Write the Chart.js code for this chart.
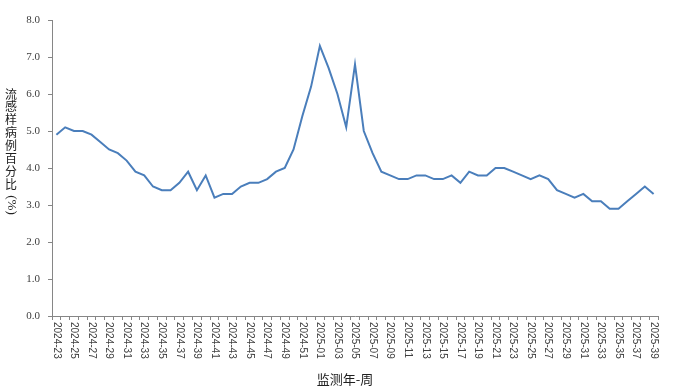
<!DOCTYPE html>
<html lang="zh">
<head>
    <meta charset="UTF-8">
    <title>流感样病例百分比</title>
    <script src="https://cdn.jsdelivr.net/npm/chart.js"></script>
    <style>
        html, body {
            margin: 0;
            padding: 0;
            background: #ffffff;
        }
        #wrap {
            position: relative;
            width: 693px;
            height: 390px;
        }
    </style>
</head>
<body>
    <div id="wrap">
        <canvas id="ili" width="693" height="390"></canvas>
    </div>
    <script>
        // 监测周 (2024-23 ... 2025-39)
        const weeks = [
            '2024-23', '2024-24', '2024-25', '2024-26', '2024-27', '2024-28', '2024-29', '2024-30',
            '2024-31', '2024-32', '2024-33', '2024-34', '2024-35', '2024-36', '2024-37', '2024-38',
            '2024-39', '2024-40', '2024-41', '2024-42', '2024-43', '2024-44', '2024-45', '2024-46',
            '2024-47', '2024-48', '2024-49', '2024-50', '2024-51', '2024-52',
            '2025-01', '2025-02', '2025-03', '2025-04', '2025-05', '2025-06', '2025-07', '2025-08',
            '2025-09', '2025-10', '2025-11', '2025-12', '2025-13', '2025-14', '2025-15', '2025-16',
            '2025-17', '2025-18', '2025-19', '2025-20', '2025-21', '2025-22', '2025-23', '2025-24',
            '2025-25', '2025-26', '2025-27', '2025-28', '2025-29', '2025-30', '2025-31', '2025-32',
            '2025-33', '2025-34', '2025-35', '2025-36', '2025-37', '2025-38', '2025-39'
        ];

        // 流感样病例百分比 (%)
        const iliPercent = [
            4.9, 5.1, 5.0, 5.0, 4.9, 4.7, 4.5, 4.4,
            4.2, 3.9, 3.8, 3.5, 3.4, 3.4, 3.6, 3.9,
            3.4, 3.8, 3.2, 3.3, 3.3, 3.5, 3.6, 3.6,
            3.7, 3.9, 4.0, 4.5, 5.4, 6.2,
            7.3, 6.7, 6.0, 5.1, 6.8, 5.0, 4.4, 3.9,
            3.8, 3.7, 3.7, 3.8, 3.8, 3.7, 3.7, 3.8,
            3.6, 3.9, 3.8, 3.8, 4.0, 4.0, 3.9, 3.8,
            3.7, 3.8, 3.7, 3.4, 3.3, 3.2, 3.3, 3.1,
            3.1, 2.9, 2.9, 3.1, 3.3, 3.5, 3.3
        ];

        const yTicks = [0, 1, 2, 3, 4, 5, 6, 7, 8];
        const yTitleChars = ['流', '感', '样', '病', '例', '百', '分', '比'];
        const yTitleUnit = '(%)';
        const xTitle = '监测年-周';

        const axisColor = '#868686';
        const textColor = '#404040';

        // draws the rotated week labels and both axis titles
        const axisText = {
            id: 'axisText',
            afterDraw(chart) {
                const ctx = chart.ctx;
                const xs = chart.scales.x;

                ctx.save();
                ctx.fillStyle = textColor;
                ctx.font = '10px "Liberation Sans", Arial, sans-serif';
                ctx.textAlign = 'left';
                ctx.textBaseline = 'middle';
                weeks.forEach((w, i) => {
                    if (i % 2) return;
                    ctx.save();
                    ctx.translate(xs.getPixelForValue(i), xs.top + 6);
                    ctx.rotate(Math.PI / 2);
                    ctx.fillText(w, 0, 0);
                    ctx.restore();
                });

                // y title, upright characters stacked
                ctx.fillStyle = '#202020';
                ctx.font = '12px "Noto Sans CJK SC", sans-serif';
                ctx.textAlign = 'center';
                yTitleChars.forEach((c, i) => {
                    ctx.fillText(c, 11, 94 + i * 12.9);
                });
                ctx.save();
                ctx.font = '13px "Liberation Serif", serif';
                ctx.translate(11, 205);
                ctx.rotate(Math.PI / 2);
                ctx.fillText(yTitleUnit, 0, 0);
                ctx.restore();

                // x title
                ctx.font = '13px "Noto Sans CJK SC", sans-serif';
                ctx.fillText(xTitle, 345, 379);
                ctx.restore();
            }
        };

        new Chart(document.getElementById('ili'), {
            type: 'line',
            data: {
                labels: weeks,
                datasets: [{
                    data: iliPercent,
                    borderColor: '#4a7ebb',
                    borderWidth: 2,
                    pointRadius: 0,
                    tension: 0,
                    fill: false
                }]
            },
            options: {
                responsive: false,
                animation: false,
                devicePixelRatio: 1,
                layout: {
                    padding: { top: 20, right: 35, bottom: 0, left: 0 }
                },
                plugins: {
                    legend: { display: false },
                    tooltip: { enabled: false }
                },
                scales: {
                    x: {
                        type: 'category',
                        offset: true,
                        afterFit: (s) => { s.height = 74; },
                        grid: {
                            offset: true,
                            drawOnChartArea: false,
                            drawTicks: true,
                            tickLength: 4,
                            color: axisColor
                        },
                        border: { color: axisColor, width: 1 },
                        ticks: { display: false }
                    },
                    y: {
                        min: 0,
                        max: 8,
                        afterFit: (s) => { s.width = 52; },
                        afterBuildTicks: (s) => { s.ticks = yTicks.map(v => ({ value: v })); },
                        grid: {
                            drawOnChartArea: false,
                            drawTicks: true,
                            tickLength: 4,
                            color: axisColor
                        },
                        border: { color: axisColor, width: 1 },
                        ticks: {
                            autoSkip: false,
                            padding: 8,
                            color: textColor,
                            font: { family: '"Liberation Serif", "Times New Roman", serif', size: 11 },
                            callback: (v) => Number(v).toFixed(1)
                        }
                    }
                }
            },
            plugins: [axisText]
        });
    </script>
</body>
</html>
